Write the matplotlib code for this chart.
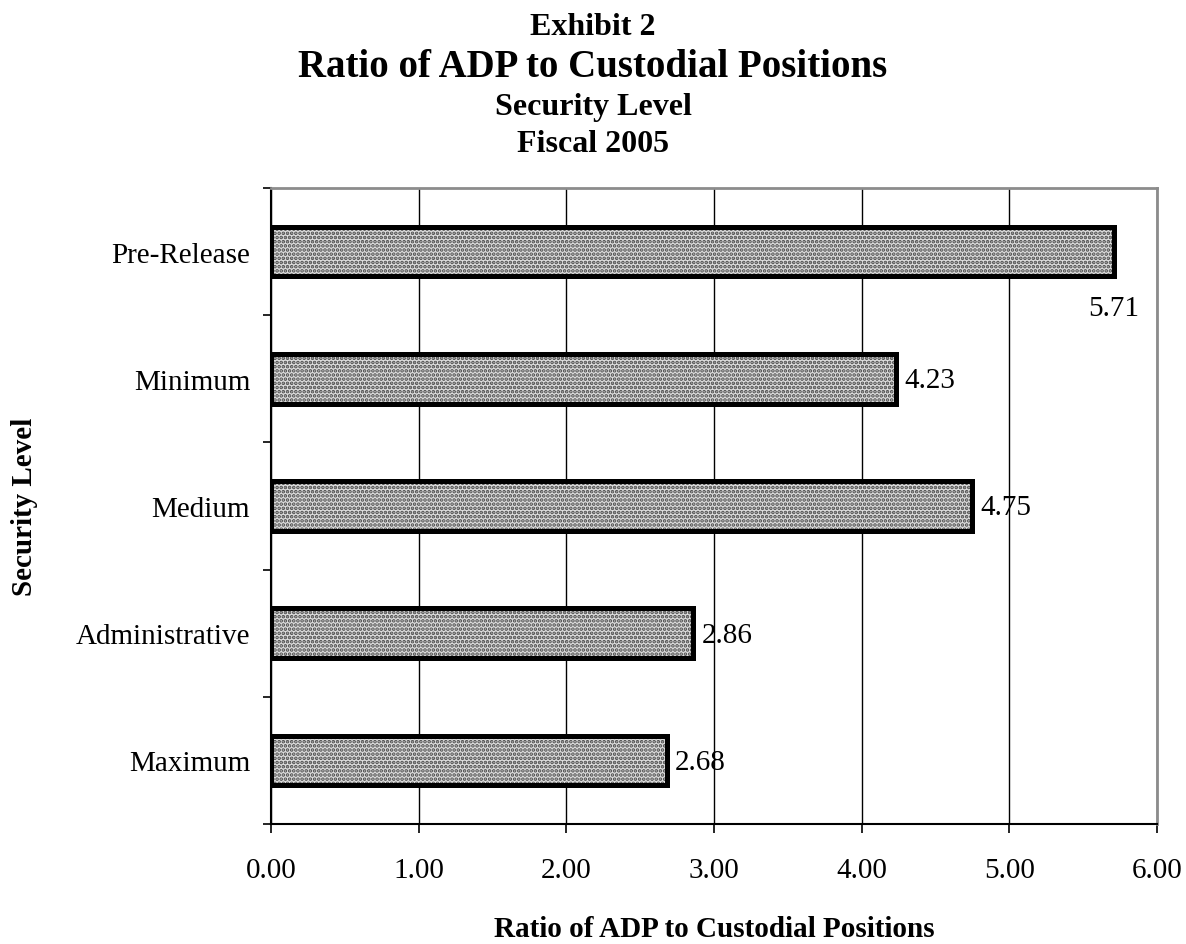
import matplotlib
matplotlib.use("Agg")
import matplotlib.pyplot as plt

categories = ["Maximum", "Administrative", "Medium", "Minimum", "Pre-Release"]
ratios = [2.68, 2.86, 4.75, 4.23, 5.71]
x_ticks = [0, 1, 2, 3, 4, 5, 6]
x_tick_labels = ["0.00", "1.00", "2.00", "3.00", "4.00", "5.00", "6.00"]

plt.rcParams["font.family"] = ["Liberation Serif", "DejaVu Serif"]
plt.rcParams["hatch.linewidth"] = 1.8
plt.rcParams["hatch.color"] = "#4a4a4a"

W, H = 1186, 945
fig = plt.figure(figsize=(W / 100, H / 100), dpi=100)
ax = fig.add_axes([271 / W, 1 - 825 / H, (1157 - 271) / W, (825 - 189) / H])

ypos = list(range(len(categories)))
bar_h = 0.39
# textured fill
ax.barh(ypos, ratios, height=bar_h, color="#dcdcdc", hatch="....",
        edgecolor="#4a4a4a", linewidth=0, zorder=2)
# heavy outline
ax.barh(ypos, ratios, height=bar_h, fill=False, edgecolor="black",
        linewidth=3.6, zorder=3)

for y, v in zip(ypos, ratios):
    if v > 5.5:
        # no room to the right of the longest bar: put its value underneath
        ax.annotate(f"{v:.2f}", xy=(v, y - 0.44), ha="center", va="center",
                    fontsize=21)
    else:
        ax.annotate(f"{v:.2f}", xy=(v, y), xytext=(6, -1),
                    textcoords="offset points", ha="left", va="center",
                    fontsize=21, zorder=4)

ax.set_xlim(0, 6)
ax.set_ylim(-0.5, len(categories) - 0.5)
ax.set_xticks(x_ticks)
ax.set_xticklabels(x_tick_labels, fontsize=21)
ax.set_yticks(ypos)
ax.set_yticklabels(categories, fontsize=21)
ax.tick_params(axis="y", which="major", length=0, pad=15)
ax.set_yticks([i - 0.5 for i in range(len(categories) + 1)], minor=True)
ax.tick_params(axis="y", which="minor", length=6, width=1.2, direction="out")
ax.tick_params(axis="x", length=6.5, width=1.2, direction="out", pad=17)

ax.grid(axis="x", color="black", linewidth=1, zorder=1)
ax.set_axisbelow(True)
for side in ("top", "right"):
    ax.spines[side].set_color("#8c8c8c")
    ax.spines[side].set_linewidth(2)
for side in ("left", "bottom"):
    ax.spines[side].set_color("black")
    ax.spines[side].set_linewidth(1.5)

# axis titles
fig.text(0.5 * (271 + 1157) / W, 1 - 937 / H,
         "Ratio of ADP to Custodial Positions", ha="center", va="baseline",
         fontsize=21, fontweight="bold")
fig.text(25 / W, 1 - 507 / H, "Security Level", ha="center", va="center",
         rotation=90, fontsize=21, fontweight="bold")

# heading block
heading = [("Exhibit 2", 35, 23), ("Ratio of ADP to Custodial Positions", 77, 28),
           ("Security Level", 115, 23), ("Fiscal 2005", 152, 23)]
for text, base_px, size in heading:
    fig.text(0.5, 1 - base_px / H, text, ha="center", va="baseline",
             fontsize=size, fontweight="bold")

fig.savefig("out.png", dpi=100, facecolor="white")
